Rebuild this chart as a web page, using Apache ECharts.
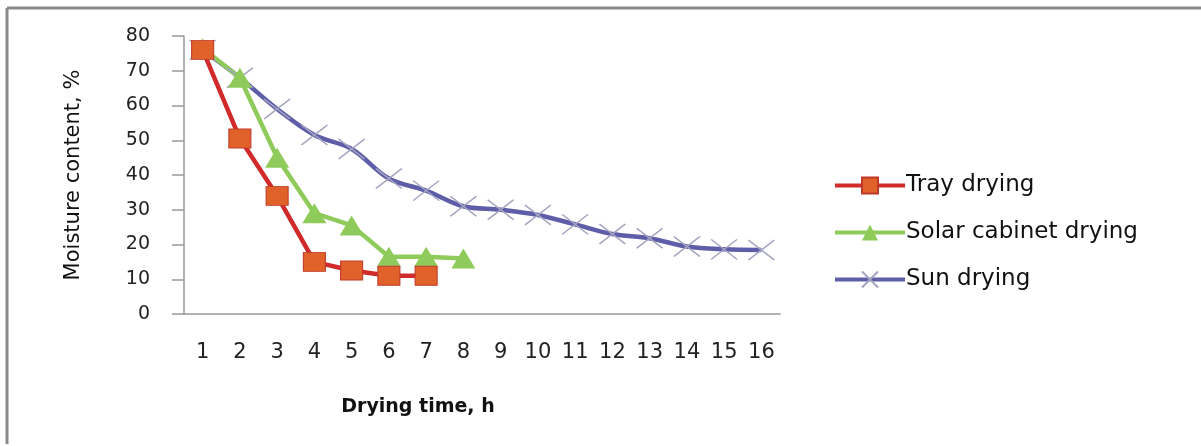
<!DOCTYPE html>
<html>
<head>
<meta charset="utf-8">
<script src="https://cdn.jsdelivr.net/npm/echarts@6/dist/echarts.min.js"></script>
<style>
	html, body { margin: 0; padding: 0; background: #fff; }
	#chart { width: 1201px; height: 446px; }
</style>
</head>
<body>
<div id="chart"></div>
<script>
// drying time, h
var hours = ['1', '2', '3', '4', '5', '6', '7', '8', '9', '10', '11', '12', '13', '14', '15', '16'];
// moisture content, %
var trayDrying = [76, 50.5, 34, 15, 12.5, 11, 11];
var solarCabinet = [76.5, 68, 45, 29, 25.5, 16.5, 16.5, 16];
var sunDrying = [76, 68, 59, 51.5, 47.5, 39, 35.5, 31, 30, 28.5, 25.8, 23, 21.8, 19.4, 18.6, 18.4];
var yTicks = { min: 0, max: 80, step: 10 };

var chart = echarts.init(document.getElementById('chart'));
var font = '"DejaVu Sans", sans-serif';

var option = {
	backgroundColor: '#fff',
	animation: false,
	textStyle: { fontFamily: font },
	grid: {
		left: 184,
		right: 421,
		top: 36,
		bottom: 132
	},
	legend: {
		orient: 'vertical',
		left: 828,
		top: 169,
		itemWidth: 70,
		itemHeight: 20,
		itemGap: 24,
		lineStyle: { width: 4 },
		textStyle: { fontSize: 23, color: '#111', fontFamily: font, padding: [0, 0, 0, -4] },
		data: ['Tray drying', 'Solar cabinet drying', 'Sun drying']
	},
	xAxis: {
		type: 'category',
		data: hours,
		boundaryGap: true,
		name: 'Drying time, h',
		nameLocation: 'middle',
		nameGap: 84,
		nameTextStyle: { fontSize: 19, fontWeight: 'bold', color: '#111', padding: [0, 128, 0, 0] },
		axisLine: { lineStyle: { color: '#999', width: 1.5 } },
		axisTick: { show: false },
		axisLabel: { interval: 0, fontSize: 21, color: '#222', margin: 28 }
	},
	yAxis: {
		type: 'value',
		min: yTicks.min,
		max: yTicks.max,
		interval: yTicks.step,
		name: 'Moisture content, %',
		nameLocation: 'middle',
		nameGap: 100,
		nameTextStyle: { fontSize: 21, color: '#111' },
		axisLine: { show: true, lineStyle: { color: '#999', width: 1.5 } },
		axisTick: { show: true, length: 12, lineStyle: { color: '#999', width: 1.5 } },
		axisLabel: { fontSize: 19, color: '#222', margin: 34 },
		splitLine: { show: false }
	},
	series: [
		{
			name: 'Sun drying',
			type: 'line',
			smooth: 0.35,
			data: sunDrying,
			symbol: 'path://M0,0L10,8M10,0L0,8',
			symbolSize: [26, 20],
			color: '#5e5ea8',
			lineStyle: { width: 4.5, color: '#5e5ea8' },
			itemStyle: { color: 'transparent', borderColor: '#a4a4c2', borderWidth: 1.5 }
		},
		{
			name: 'Solar cabinet drying',
			type: 'line',
			data: solarCabinet,
			symbol: 'triangle',
			symbolSize: [24, 20],
			color: '#8fcb5a',
			lineStyle: { width: 4.5, color: '#8fcb5a' },
			itemStyle: { color: '#8fcb5a' }
		},
		{
			name: 'Tray drying',
			type: 'line',
			data: trayDrying,
			symbol: 'rect',
			symbolSize: [22, 19],
			color: '#d02a2a',
			lineStyle: { width: 4.5, color: '#d02a2a' },
			itemStyle: { color: '#e0622a', borderColor: '#c03a2a', borderWidth: 1 }
		}
	],
	graphic: [
		{ type: 'line', shape: { x1: 7, y1: 8, x2: 1201, y2: 8 }, style: { stroke: '#8a8a8a', lineWidth: 3 } },
		{ type: 'line', shape: { x1: 7, y1: 8, x2: 7, y2: 444 }, style: { stroke: '#8a8a8a', lineWidth: 3 } }
	]
};

chart.setOption(option);
</script>
</body>
</html>
